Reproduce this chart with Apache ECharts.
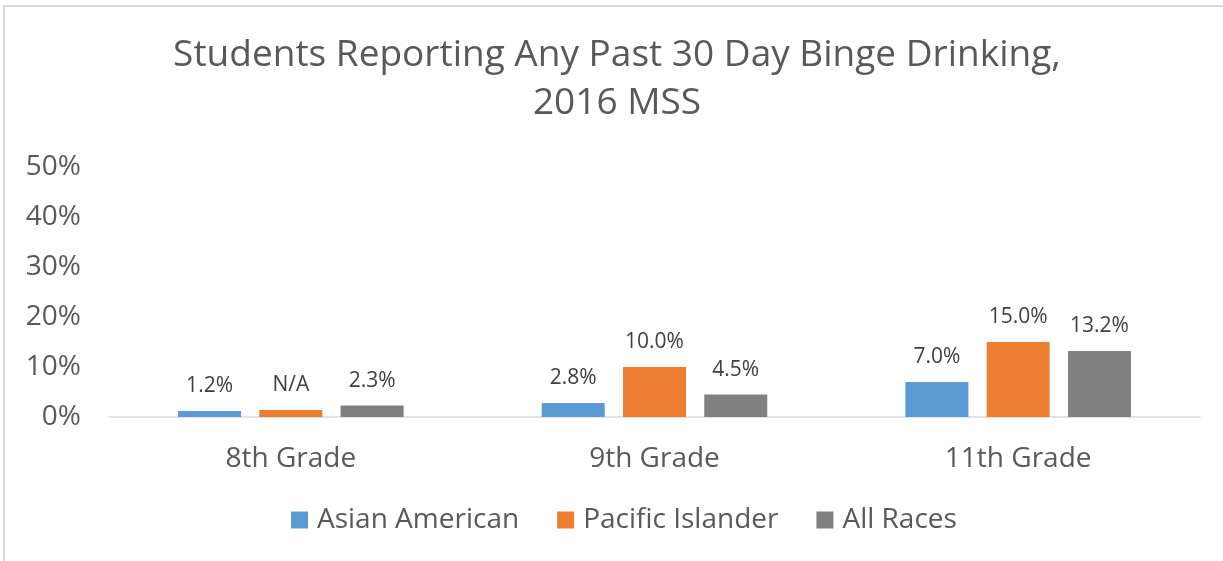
<!DOCTYPE html>
<html>
<head>
<meta charset="utf-8">
<script src="https://cdn.jsdelivr.net/npm/echarts@6/dist/echarts.min.js"></script>
<style>
  html, body { margin: 0; padding: 0; background: #fff; overflow: hidden; }
  #chart { position: absolute; left: 3px; top: 5px; width: 1240px; height: 580px;
           border-left: 2px solid #d9d9d9; border-top: 2px solid #d9d9d9; }
</style>
</head>
<body>
<div id="chart"></div>
<script>
const grades = ["8th Grade", "9th Grade", "11th Grade"];
const asianAmerican = [1.2, 2.8, 7.0];
const pacificIslander = [1.4, 10.0, 15.0];
const pacificLabels = ["N/A", "10.0%", "15.0%"];
const allRaces = [2.3, 4.5, 13.2];
const yTicks = [0, 10, 20, 30, 40, 50];

const font = "Open Sans";

function barSeries(name, data, color, labels) {
  return {
    name: name,
    type: "bar",
    data: data,
    barWidth: 63,
    barGap: "29%",
    itemStyle: { color: color },
    label: {
      show: true,
      position: "top",
      distance: 14,
      color: "#404040",
      fontFamily: font,
      fontSize: 21,
      formatter: p => labels ? labels[p.dataIndex] : p.value.toFixed(1) + "%"
    }
  };
}

const chart = echarts.init(document.getElementById("chart"));
chart.setOption({
  animation: false,
  title: {
    text: "Students Reporting Any Past 30 Day Binge Drinking,\n2016 MSS",
    top: 24,
    left: 612,
    padding: 0,
    textAlign: "center",
    textStyle: { color: "#595959", fontFamily: font, fontSize: 37, fontWeight: "normal", lineHeight: 48 }
  },
  legend: {
    top: 499,
    left: 286,
    padding: 0,
    itemWidth: 17,
    itemHeight: 17,
    itemGap: 38,
    icon: "rect",
    textStyle: { color: "#595959", fontFamily: font, fontSize: 28, padding: [0, 0, 0, 4] },
    data: ["Asian American", "Pacific Islander", "All Races"]
  },
  grid: { left: 104, width: 1091, top: 160, height: 250, containLabel: false },
  xAxis: {
    type: "category",
    data: grades,
    axisLine: { lineStyle: { color: "#d9d9d9", width: 1.5 } },
    axisTick: { show: false },
    axisLabel: { color: "#595959", fontFamily: font, fontSize: 28, margin: 28 }
  },
  yAxis: {
    type: "value",
    min: yTicks[0],
    max: yTicks[yTicks.length - 1],
    interval: 10,
    splitLine: { show: false },
    axisLine: { show: false },
    axisLabel: { color: "#595959", fontFamily: font, fontSize: 28, margin: 28, formatter: "{value}%" }
  },
  series: [
    barSeries("Asian American", asianAmerican, "#5b9bd5"),
    barSeries("Pacific Islander", pacificIslander, "#ed7d31", pacificLabels),
    barSeries("All Races", allRaces, "#808080")
  ]
});
</script>
</body>
</html>
